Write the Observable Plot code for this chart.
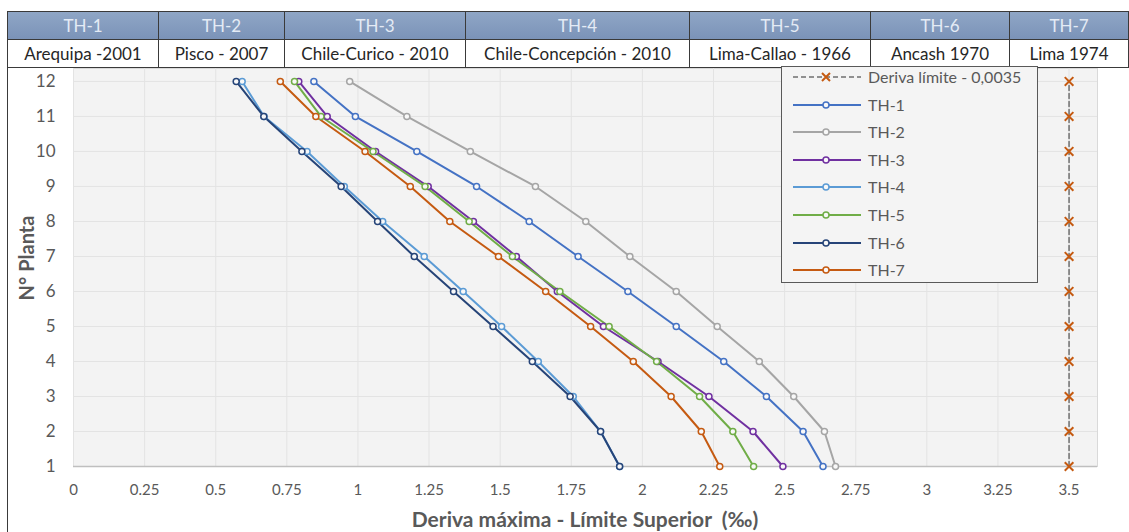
<!DOCTYPE html>
<html><head><meta charset="utf-8">
<script src="https://cdn.jsdelivr.net/npm/d3@7"></script>
<script src="https://cdn.jsdelivr.net/npm/@observablehq/plot@0.6"></script>
<style>
body{margin:0;background:#fff;font-family:Lato,"Open Sans",sans-serif;}
#wrap{position:relative;width:1129px;height:532px;overflow:hidden;background:#fff;}
.cell{position:absolute;box-sizing:border-box;display:flex;align-items:center;justify-content:center;font-size:17px;border:1px solid #3a3a3a;white-space:nowrap;}
.hdr{background:linear-gradient(#8fa6c6,#7b93b8);color:#e4ebf5;}
.plc{background:#fff;color:#262626;}
#chart{position:absolute;left:0;top:67px;}
#legend{position:absolute;left:781px;top:66px;width:257px;height:217px;box-sizing:border-box;border:1px solid #595959;background:#f4f4f4;}
.li{position:absolute;left:0;height:20px;}
.li svg{position:absolute;left:10px;top:4px;}
.li span{position:absolute;left:86px;top:0;font-size:16px;color:#595959;line-height:20px;white-space:nowrap;}
.ttl{position:absolute;font-weight:bold;color:#595959;white-space:pre;}
</style>
</head><body>
<div id="wrap"></div>
<script>
// ---- data ----
const floors = [1,2,3,4,5,6,7,8,9,10,11,12];
const TH1 = [2.635,2.565,2.436,2.286,2.119,1.949,1.774,1.602,1.417,1.207,0.991,0.845];
const TH2 = [2.679,2.640,2.532,2.411,2.263,2.119,1.956,1.801,1.624,1.395,1.172,0.971];
const TH3 = [2.494,2.389,2.234,2.055,1.863,1.701,1.557,1.406,1.247,1.062,0.892,0.792];
const TH4 = [1.920,1.853,1.757,1.634,1.505,1.370,1.233,1.087,0.952,0.821,0.670,0.593];
const TH5 = [2.391,2.318,2.201,2.050,1.883,1.710,1.543,1.391,1.236,1.053,0.870,0.777];
const TH6 = [1.920,1.853,1.746,1.613,1.475,1.336,1.198,1.069,0.941,0.803,0.669,0.572];
const TH7 = [2.272,2.207,2.101,1.968,1.818,1.660,1.494,1.323,1.184,1.025,0.852,0.727];
const seriesNames = ["TH-1","TH-2","TH-3","TH-4","TH-5","TH-6","TH-7"];
const seriesValues = [TH1,TH2,TH3,TH4,TH5,TH6,TH7];
const places = ["Arequipa -2001","Pisco - 2007","Chile-Curico - 2010","Chile-Concepción - 2010","Lima-Callao - 1966","Ancash 1970","Lima 1974"];
const limitValue = 3.5;
const limitLabel = "Deriva límite - 0,0035";
const xTicks = [0,0.25,0.5,0.75,1,1.25,1.5,1.75,2,2.25,2.5,2.75,3,3.25,3.5];
const xTitle = "Deriva máxima - Límite Superior  (‰)";
const yTitle = "N° Planta";

// ---- styles ----
const colors = ["#4472c4","#a5a5a5","#7030a0","#5b9bd5","#70ad47","#264478","#c55a11"];
const colEdges = [7,158,284,465,689,870,1009,1128];

const wrap = document.getElementById("wrap");

// header table
seriesNames.forEach((s,i)=>{
  const l = colEdges[i], w = colEdges[i+1]-colEdges[i]+1;
  const a = document.createElement("div");
  a.className="cell hdr"; a.style.cssText=`left:${l}px;top:11px;width:${w}px;height:29px;`;
  a.textContent=s; wrap.appendChild(a);
  const b = document.createElement("div");
  b.className="cell plc"; b.style.cssText=`left:${l}px;top:39px;width:${w}px;height:29px;`;
  b.textContent=places[i]; wrap.appendChild(b);
});

// chart
const rows = seriesNames.flatMap((s,i)=>floors.map((f,j)=>({series:s,floor:f,drift:seriesValues[i][j]})));
const limitRows = floors.map(f=>({floor:f,drift:limitValue}));

const chart = Plot.plot({
  width:1129, height:465,
  marginTop:1, marginBottom:66, marginLeft:73, marginRight:32,
  style:{background:"transparent",fontFamily:"Lato, sans-serif",fontSize:"15px",color:"#595959",overflow:"visible"},
  x:{domain:[0,3.6]},
  y:{domain:[1,12.37]},
  color:{domain:seriesNames, range:colors},
  marks:[
    Plot.frame({fill:"#f3f3f3", stroke:"#d9d9d9"}),
    Plot.gridX(xTicks,{stroke:"#e3e3e3",strokeOpacity:1}),
    Plot.gridY(floors.slice(1),{stroke:"#e3e3e3",strokeOpacity:1}),
    Plot.ruleY([1],{stroke:"#bfbfbf",strokeWidth:1.5}),
    Plot.axisX({ticks:xTicks,tickSize:0,tickPadding:18,fontSize:15,label:null,tickFormat:d=>String(d)}),
    Plot.axisY({ticks:floors,tickSize:0,tickPadding:18,fontSize:17,label:null}),
    Plot.line(limitRows,{x:"drift",y:"floor",stroke:"#6f6f6f",strokeDasharray:"5,3",strokeWidth:1.5}),
    Plot.dot(limitRows,{x:"drift",y:"floor",symbol:"times",stroke:"#c55a11",r:4,strokeWidth:2}),
    Plot.line(rows,{x:"drift",y:"floor",z:"series",stroke:"series",strokeWidth:2}),
    Plot.dot(rows,{x:"drift",y:"floor",stroke:"series",fill:"#f8f8f8",r:3,strokeWidth:1.5})
  ]
});
const holder = document.createElement("div");
holder.id="chart"; holder.appendChild(chart); wrap.appendChild(holder);

// legend
const legend = document.createElement("div");
legend.id="legend"; wrap.appendChild(legend);
const legItems = [{name:limitLabel,limit:true}].concat(seriesNames.map((s,i)=>({name:s,color:colors[i]})));
legItems.forEach((it,k)=>{
  const d = document.createElement("div");
  d.className="li"; d.style.top = (0 + k*27.6) + "px";
  let svg;
  if(it.limit){
    svg = `<svg width="70" height="12"><line x1="1" x2="69" y1="6" y2="6" stroke="#6f6f6f" stroke-width="1.5" stroke-dasharray="5,3"/><path d="M30,2L38,10M38,2L30,10" stroke="#c55a11" stroke-width="2"/></svg>`;
  } else {
    svg = `<svg width="70" height="12"><line x1="1" x2="69" y1="6" y2="6" stroke="${it.color}" stroke-width="2"/><circle cx="34" cy="6" r="3" fill="#f8f8f8" stroke="${it.color}" stroke-width="1.5"/></svg>`;
  }
  d.innerHTML = svg + `<span>${it.name}</span>`;
  legend.appendChild(d);
});

// titles
const xt = document.createElement("div");
xt.className="ttl"; xt.textContent=xTitle;
xt.style.cssText="left:585px;top:506px;font-size:21px;transform:translateX(-50%);";
wrap.appendChild(xt);
const yt = document.createElement("div");
yt.className="ttl"; yt.textContent=yTitle;
yt.style.cssText="left:26px;top:258px;font-size:20px;transform:translate(-50%,-50%) rotate(-90deg);";
wrap.appendChild(yt);

// left frame line
const fl = document.createElement("div");
fl.style.cssText="position:absolute;left:7px;top:67px;width:0;height:465px;border-left:1px solid #3a3a3a;";
wrap.appendChild(fl);
</script>
</body></html>
